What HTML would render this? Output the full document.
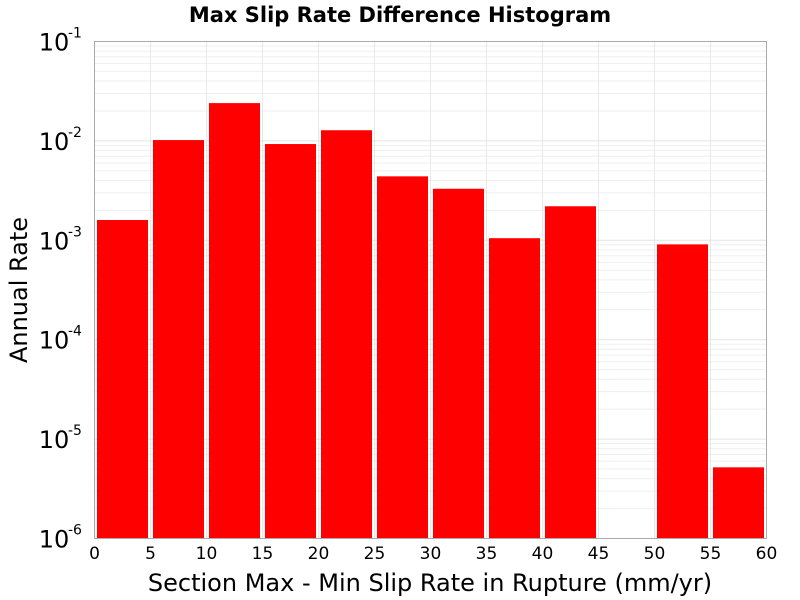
<!DOCTYPE html>
<html><head><meta charset="utf-8"><style>
body{margin:0;background:#fff;}
svg{display:block;font-family:"DejaVu Sans","Liberation Sans",sans-serif;}
</style></head><body>
<svg id="chart" width="800" height="600">
<text x="400" y="22" text-anchor="middle" font-size="21" font-weight="bold">Max Slip Rate Difference Histogram</text>
<g id="grid"></g>
<g id="bars"></g>
<rect x="94.5" y="41.5" width="672" height="497" fill="none" stroke="#aaa" stroke-width="1"/>
<g id="xticks" font-size="17"></g>
<g id="yticks" font-size="24"></g>
<text x="430" y="591" text-anchor="middle" font-size="24">Section Max - Min Slip Rate in Rupture (mm/yr)</text>
<text transform="translate(27,290) rotate(-90)" text-anchor="middle" font-size="24">Annual Rate</text>
</svg>
<script>
const binStarts=[0,5,10,15,20,25,30,35,40,45,50,55];
const rates=[1.6e-3,1.02e-2,2.4e-2,9.3e-3,1.28e-2,4.4e-3,3.3e-3,1.05e-3,2.2e-3,0,9.1e-4,5.2e-6];
const xTickLabels=[0,5,10,15,20,25,30,35,40,45,50,55,60];
const yExps=[-6,-5,-4,-3,-2,-1];
const binWidth=5;
const NS="http://www.w3.org/2000/svg";
const L=94.5,R=766.5,T=41.5,B=538.5;
const x=v=>L+(v-0)/(60-0)*(R-L);
const y=v=>B-(Math.log10(v)+6)/5*(B-T);
function mk(t,a,p){const e=document.createElementNS(NS,t);for(const k in a)e.setAttribute(k,a[k]);p.appendChild(e);return e;}
const grid=document.getElementById('grid');
for(let d=-6;d<-1;d++){for(let m=1;m<10;m++){const v=m*Math.pow(10,d);const yy=y(v);
const ln=mk('line',{x1:L,x2:R,y1:yy,y2:yy,stroke:m==1?'#e4e4e4':'#efefef','stroke-width':1},grid);

}}
xTickLabels.forEach(v=>{const ln=mk('line',{x1:x(v),x2:x(v),y1:T,y2:B,stroke:'#e8e8e8','stroke-width':1},grid);

});
const bars=document.getElementById('bars');
binStarts.forEach((s,i)=>{const v=rates[i];if(!(v>0))return;const x0=x(s)+2.5,x1=x(s+binWidth)-2.5;const yt=y(v);
const r=mk('rect',{x:x0,y:yt,width:x1-x0,height:B-yt,fill:'#ff0000'},bars);

});
const xt=document.getElementById('xticks');
xTickLabels.forEach(v=>{const t=mk('text',{x:x(v),y:559,'text-anchor':'middle'},xt);t.textContent=v;

});
const yt=document.getElementById('yticks');
yExps.forEach(e=>{const yy=y(Math.pow(10,e));const t=mk('text',{x:54,y:yy+9,'text-anchor':'middle'},yt);
t.textContent='10';


const s=mk('text',{x:68,y:yy-4,'font-size':14},yt);s.textContent=e;

});
</script>
</body></html>
